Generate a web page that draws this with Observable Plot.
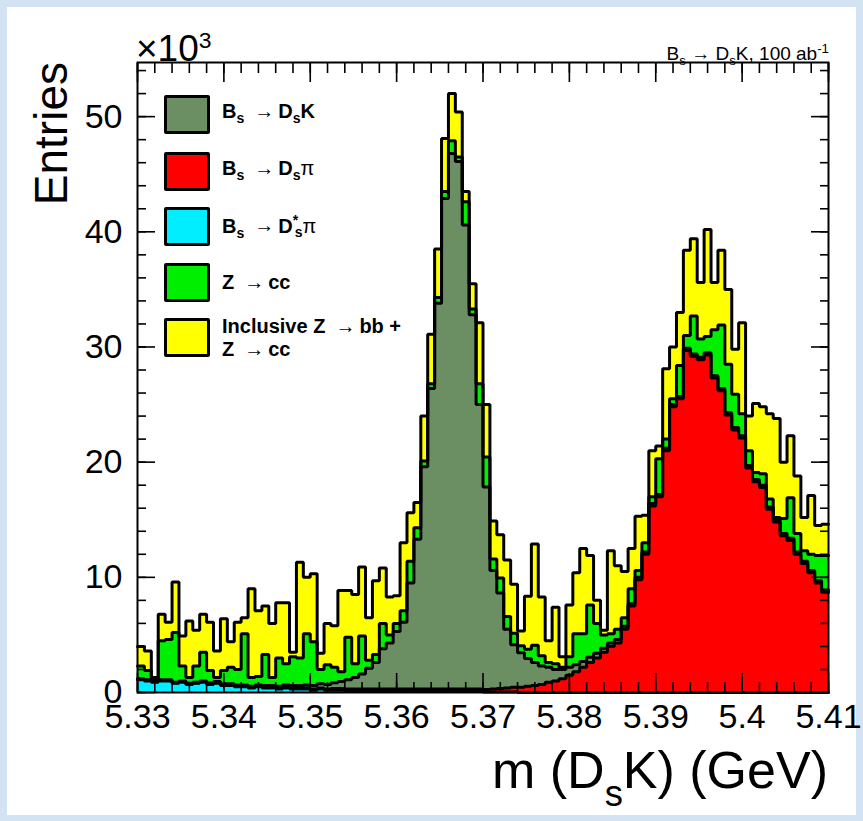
<!DOCTYPE html>
<html>
<head>
<meta charset="utf-8">
<script src="https://cdn.jsdelivr.net/npm/d3@7"></script>
<script src="https://cdn.jsdelivr.net/npm/@observablehq/plot@0.6"></script>
<style>
html, body { margin: 0; padding: 0; background: #d3e3f4; width: 863px; height: 821px; overflow: hidden; }
#panel { position: absolute; left: 7px; top: 7px; width: 849px; height: 808px; background: #fff;
  font-family: "Liberation Sans", Arial, Helvetica, sans-serif; color: #000; }
#chart { position: absolute; left: 0; top: 0; }
.abs { position: absolute; white-space: nowrap; line-height: 1; }
sub.s { font-size: 70%; vertical-align: -0.35em; }
sup.s { font-size: 70%; vertical-align: 0.55em; }
#legend { position: absolute; left: 157px; top: 88px; font-weight: bold; font-size: 20px; }
.row { position: absolute; left: 0; height: 38px; }
.box { position: absolute; left: 0; top: 0; width: 40px; height: 33px; border: 3px solid #000; border-radius: 2px; }
.lab { position: absolute; left: 58px; white-space: nowrap; line-height: 23px; }
.arr { font-weight: normal; padding: 0 4px 0 10px; }
</style>
</head>
<body>
<div id="panel">
  <div id="chart"></div>
  <div id="xtitle" class="abs" style="right:28px; top:737px; font-size:52px;">m (D<sub class="s" style="vertical-align:-0.5em;">s</sub>K) (GeV)</div>
  <div id="x10" class="abs" style="left:129px; top:22px; font-size:37px;">×10<sup class="s" style="font-size:62%;">3</sup></div>
  <div id="toptext" class="abs" style="right:27px; top:35px; font-size:19px;">B<sub class="s">s</sub> → D<sub class="s">s</sub>K, 100 ab<sup class="s">-1</sup></div>
  <div id="legend"></div>
</div>
<script>
// ---- binning ----
const binStart = 5.33;
const binWidth = 0.0008;
const nBins = 100;

// ---- series (entries in units of 10^3 per bin) ----
const seriesNames = ["Bs → D*sπ", "Bs → Dsπ", "Bs → DsK", "Z → cc", "Inclusive Z → bb + Z → cc"];
const seriesColors = ["#00eeff", "#ff0000", "#6b8f63", "#00ee00", "#ffff00"];

const dsStarPi = [
  1.1,1.0,0.9,1.0,1.0,0.8,0.9,0.7,0.8,0.9,
  0.7,0.8,0.6,0.6,0.5,0.5,0.4,0.5,0.4,0.4,
  0.3,0.4,0.3,0.3,0.3,0.2,0.3,0.2,0.2,0.2,
  0.15,0.15,0.1,0.1,0.1,0.1,0.1,0.1,0.1,0.1,
  0.1,0.1,0.1,0.1,0.1,0.1,0.1,0.1,0.1,0.1,
  0.05,0.05,0.05,0.05,0.05,0,0,0,0,0,
  0,0,0,0,0,0,0,0,0,0,
  0,0,0,0,0,0,0,0,0,0,
  0,0,0,0,0,0,0,0,0,0,
  0,0,0,0,0,0,0,0,0,0
];
const dsPi = [
  0.05,0.05,0.05,0.05,0.05,0.05,0.05,0.05,0.05,0.05,
  0.05,0.05,0.05,0.05,0.05,0.05,0.05,0.05,0.1,0.1,
  0.1,0.1,0.1,0.1,0.1,0.1,0.1,0.1,0.15,0.15,
  0.15,0.15,0.2,0.2,0.2,0.2,0.2,0.2,0.2,0.2,
  0.2,0.2,0.2,0.2,0.2,0.2,0.2,0.2,0.2,0.2,
  0.2,0.25,0.3,0.35,0.4,0.45,0.55,0.6,0.7,0.9,
  1.0,1.2,1.5,1.8,2.2,2.6,3.0,3.5,4.0,4.3,
  5.5,7.5,9.8,12.0,16.2,17.0,21.0,24.8,25.5,29.7,
  29.2,28.9,29.3,27.3,26.2,24.1,22.8,22.1,19.5,18.3,
  17.8,15.9,14.8,13.6,13.2,12.0,11.2,10.4,9.5,8.7
];
const dsK = [
  0.05,0.05,0.05,0.05,0.05,0.05,0.05,0.05,0.05,0.05,
  0.1,0.1,0.1,0.1,0.1,0.1,0.1,0.1,0.1,0.1,
  0.15,0.15,0.2,0.2,0.25,0.3,0.35,0.4,0.5,0.6,
  0.8,1.0,1.3,1.8,2.3,3.5,4.0,5.0,5.8,9.2,
  13.0,19.3,26.1,33.5,42.6,46.5,45.8,40.3,32.5,24.7,
  17.6,10.3,8.3,5.1,3.7,3.0,2.4,2.0,1.6,1.3,
  1.0,0.8,0.7,0.6,0.5,0.45,0.4,0.35,0.3,0.3,
  0.25,0.2,0.2,0.2,0.2,0.2,0.2,0.2,0.2,0.2,
  0.2,0.2,0.2,0.2,0.2,0.2,0.2,0.2,0.2,0.2,
  0.2,0.2,0.2,0.2,0.2,0.2,0.2,0.2,0.2,0.2
];
const zcc = [
  1.1,0.8,0.2,3.4,3.5,4.3,1.3,0.5,1.4,2.5,
  1.05,0.35,1.15,1.45,1.35,4.45,0.75,0.75,2.7,0.7,
  2.45,1.85,2.5,2.4,4.45,3.8,1.25,1.7,1.35,0.85,
  3.7,1.2,3.3,0.7,0.7,2.2,0.7,0.7,1.0,1.9,
  1.0,0.5,0.4,0.5,0.6,1.1,0.4,2.0,0.5,1.8,
  2.6,1.0,1.3,1.1,1.0,0.6,0.8,1.5,0.9,0.4,
  0.5,0.2,0.9,2.7,2.4,4.55,2.6,1.15,0.8,0.9,
  0.75,1.3,0.6,0.8,0.6,3.1,0.8,0.5,2.7,1.1,
  3.3,1.6,1.4,4.0,5.5,4.2,2.9,1.9,1.3,0.6,
  1.0,0.7,0.2,1.3,3.5,1.6,0.9,1.4,2.2,3.0
];
const inclusive = [
  1.7,1.7,0.1,2.3,1.5,4.4,2.6,4.9,3.1,3.3,
  4.2,2.3,4.5,2.2,4.1,1.4,7.7,5.7,4.2,4.7,
  4.8,5.3,0.4,8.3,4.9,5.9,1.4,3.6,3.6,7.05,
  4.05,6.0,6.0,3.7,6.4,4.8,3.3,2.4,5.9,4.2,
  2.2,3.9,4.3,4.2,4.6,4.1,3.9,0.9,2.2,5.3,
  4.55,3.3,3.75,4.9,4.25,1.3,4.6,8.8,5.1,1.9,
  4.9,0.9,4.5,5.3,7.4,4.3,2.0,0.4,7.2,5.5,
  4.0,3.5,4.7,2.4,4.0,1.1,6.1,4.5,4.6,7.4,
  6.7,4.9,9.3,4.1,6.5,6.5,3.9,7.9,3.0,6.0,
  5.8,7.4,8.6,4.9,5.4,5.0,2.9,5.1,2.6,2.7
];

// ---- axes ----
const xDomain = [5.33, 5.41];
const yDomain = [0, 54.7];
const xTicks = [5.33, 5.34, 5.35, 5.36, 5.37, 5.38, 5.39, 5.40, 5.41];
const xTickLabels = ["5.33", "5.34", "5.35", "5.36", "5.37", "5.38", "5.39", "5.4", "5.41"];
const xMinorTicks = d3.range(0, 41).map(i => +(5.33 + i * 0.002).toFixed(4));
const yTicks = [0, 10, 20, 30, 40, 50];
const yTickLabels = ["0", "10", "20", "30", "40", "50"];
const yMinorTicks = d3.range(0, 28).map(i => i * 2);

// ---- legend entries (top to bottom) ----
const legendLabels = [
  'B<sub class="s">s</sub><span class="arr">→</span>D<sub class="s">s</sub>K',
  'B<sub class="s">s</sub><span class="arr">→</span>D<sub class="s">s</sub><span style="font-weight:normal">π</span>',
  'B<sub class="s">s</sub><span class="arr">→</span>D<sup class="s">*</sup><sub class="s" style="margin-left:-0.25em">s</sub><span style="font-weight:normal">π</span>',
  'Z<span class="arr">→</span>cc',
  'Inclusive Z<span class="arr">→</span>bb +<br>Z<span class="arr">→</span>cc'
];
const legendColorIndex = [2, 1, 0, 3, 4];

// ---- build long table (step histogram: bin left edges + closing edge) ----
const seriesArrays = [dsStarPi, dsPi, dsK, zcc, inclusive];
const rows = [];
for (let i = 0; i <= nBins; i++) {
  const b = Math.min(i, nBins - 1);
  const x = binStart + i * binWidth;
  seriesArrays.forEach((arr, k) => rows.push({x, v: arr[b], s: seriesNames[k]}));
}

const fmtX = d => { const i = xTicks.findIndex(t => Math.abs(t - d) < 1e-6); return i >= 0 ? xTickLabels[i] : ""; };
const fmtY = d => { const i = yTicks.indexOf(d); return i >= 0 ? yTickLabels[i] : ""; };
const none = () => "";

// inward ticks (ROOT style): draw outward ticks and shift them inside by their own length
const majY = 18, minY = 9, majX = 19, minX = 10;
const tickOpts = {tickFormat: none, tickPadding: 0, label: null, strokeWidth: 1.6};

const plot = Plot.plot({
  width: 849,
  height: 808,
  marginLeft: 130,
  marginRight: 28,
  marginTop: 55,
  marginBottom: 123,
  x: {domain: xDomain},
  y: {domain: yDomain},
  color: {domain: seriesNames, range: seriesColors},
  style: {fontFamily: "'Liberation Sans', Arial, Helvetica, sans-serif", fontSize: "34px", background: "transparent", color: "#000", overflow: "visible"},
  marks: [
    Plot.areaY(rows, Plot.stackY({x: "x", y: "v", z: "s", fill: "s", curve: "step-after"})),
    Plot.lineY(rows, Plot.stackY2({x: "x", y: "v", z: "s", curve: "step-after", stroke: "#000", strokeWidth: 3, strokeLinejoin: "miter"})),
    Plot.frame({stroke: "#000", strokeWidth: 2}),
    // tick labels
    Plot.axisY({anchor: "left", ticks: yTicks, tickSize: 0, tickPadding: 15, tickFormat: fmtY, label: null}),
    Plot.axisX({anchor: "bottom", ticks: xTicks, tickSize: 0, tickPadding: 11, tickFormat: fmtX, label: null}),
    // tick marks
    Plot.axisY({anchor: "left", ticks: yTicks, tickSize: majY, dx: majY, ...tickOpts}),
    Plot.axisY({anchor: "left", ticks: yMinorTicks, tickSize: minY, dx: minY, ...tickOpts}),
    Plot.axisY({anchor: "right", ticks: yTicks, tickSize: majY, dx: -majY, ...tickOpts}),
    Plot.axisY({anchor: "right", ticks: yMinorTicks, tickSize: minY, dx: -minY, ...tickOpts}),
    Plot.axisX({anchor: "bottom", ticks: xTicks, tickSize: majX, dy: -majX, ...tickOpts}),
    Plot.axisX({anchor: "bottom", ticks: xMinorTicks, tickSize: minX, dy: -minX, ...tickOpts}),
    Plot.axisX({anchor: "top", ticks: xTicks, tickSize: majX, dy: majX, ...tickOpts}),
    Plot.axisX({anchor: "top", ticks: xMinorTicks, tickSize: minX, dy: minX, ...tickOpts})
  ]
});
document.getElementById("chart").appendChild(plot);

// y title (rotated)
const svg = d3.select(plot);
svg.append("text")
  .attr("transform", "translate(60,55) rotate(-90)")
  .attr("text-anchor", "end")
  .attr("font-size", 46)
  .attr("fill", "#000")
  .text("Entries");

// legend
const legend = document.getElementById("legend");
const rowTops = [0, 57, 112, 168, 223];
legendLabels.forEach((html, j) => {
  const row = document.createElement("div");
  row.className = "row";
  row.style.top = rowTops[j] + "px";
  const box = document.createElement("div");
  box.className = "box";
  box.style.background = seriesColors[legendColorIndex[j]];
  row.appendChild(box);
  const lab = document.createElement("div");
  lab.className = "lab";
  lab.innerHTML = html;
  row.appendChild(lab);
  legend.appendChild(row);
  const h = lab.getBoundingClientRect().height;
  lab.style.top = ((39 - h) / 2) + "px";
});
</script>
</body>
</html>
